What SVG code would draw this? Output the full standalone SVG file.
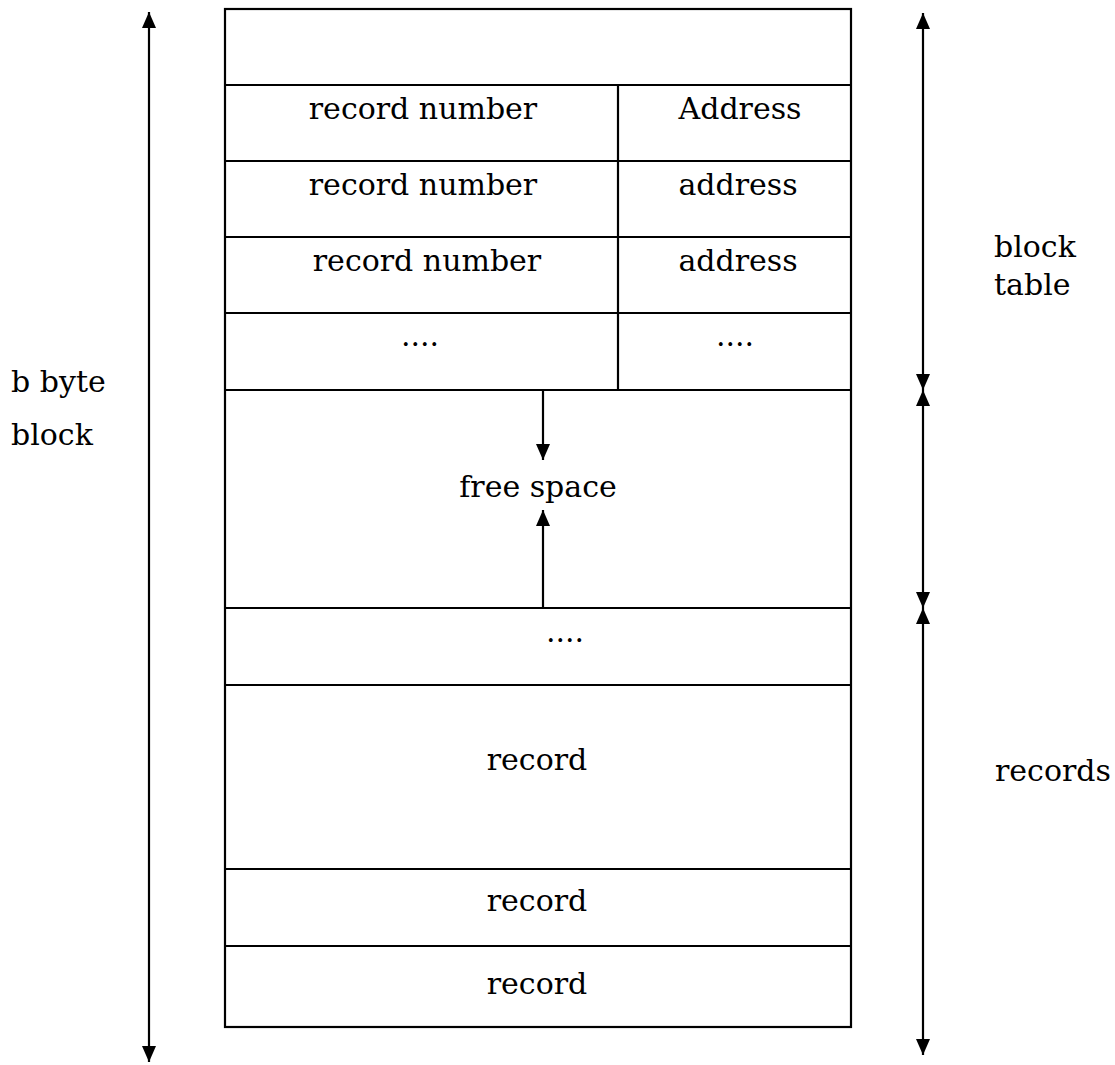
<svg xmlns="http://www.w3.org/2000/svg" width="1115" height="1065" viewBox="0 0 1115 1065">
<style>
.ln{stroke:#000;stroke-width:2.2;fill:none}
.t{font-family:"DejaVu Serif","Liberation Serif",serif;font-size:30px;fill:#000}
.c{text-anchor:middle}
</style>
<defs>
<marker id="ah" viewBox="0 0 16 14" refX="16" refY="7" markerWidth="16" markerHeight="14" markerUnits="userSpaceOnUse" orient="auto-start-reverse">
<path d="M0,0 L16,7 L0,14 Z" fill="#000"/>
</marker>
</defs>
<rect width="1115" height="1065" fill="#fff"/>
<g id="block">
<rect class="ln" x="225" y="9" width="626" height="1018"/>
<line class="ln" x1="225" y1="85" x2="851" y2="85"/>
<line class="ln" x1="225" y1="161" x2="851" y2="161"/>
<line class="ln" x1="225" y1="237" x2="851" y2="237"/>
<line class="ln" x1="225" y1="313" x2="851" y2="313"/>
<line class="ln" x1="225" y1="390" x2="851" y2="390"/>
<line class="ln" x1="618" y1="85" x2="618" y2="390"/>
<line class="ln" x1="225" y1="608" x2="851" y2="608"/>
<line class="ln" x1="225" y1="685" x2="851" y2="685"/>
<line class="ln" x1="225" y1="869" x2="851" y2="869"/>
<line class="ln" x1="225" y1="946" x2="851" y2="946"/>
</g>
<g id="table-rows">
<text class="t c" x="423" y="119">record number</text>
<text class="t c" x="740" y="119">Address</text>
<text class="t c" x="423" y="195">record number</text>
<text class="t c" x="738" y="195">address</text>
<text class="t c" x="427" y="271">record number</text>
<text class="t c" x="738" y="271">address</text>
<text class="t c" x="420" y="346">....</text>
<text class="t c" x="735" y="346">....</text>
</g>
<g id="free-space">
<text class="t c" x="538" y="497">free space</text>
</g>
<g id="records-rows">
<text class="t c" x="565" y="642">....</text>
<text class="t c" x="537" y="770">record</text>
<text class="t c" x="537" y="911">record</text>
<text class="t c" x="537" y="994">record</text>
</g>
<g id="labels">
<text class="t" x="11" y="392">b byte</text>
<text class="t" x="11" y="445">block</text>
<text class="t" x="994" y="257">block</text>
<text class="t" x="994" y="295">table</text>
<text class="t" x="995" y="781">records</text>
</g>
<g id="connectors">
<line class="ln" x1="149" y1="12" x2="149" y2="1062" marker-start="url(#ah)" marker-end="url(#ah)"/>
<line class="ln" x1="923" y1="13" x2="923" y2="390" marker-start="url(#ah)" marker-end="url(#ah)"/>
<line class="ln" x1="923" y1="390" x2="923" y2="608" marker-start="url(#ah)" marker-end="url(#ah)"/>
<line class="ln" x1="923" y1="608" x2="923" y2="1055" marker-start="url(#ah)" marker-end="url(#ah)"/>
<line class="ln" x1="543" y1="390" x2="543" y2="460" marker-end="url(#ah)"/>
<line class="ln" x1="543" y1="608" x2="543" y2="510" marker-end="url(#ah)"/>
</g>
</svg>
